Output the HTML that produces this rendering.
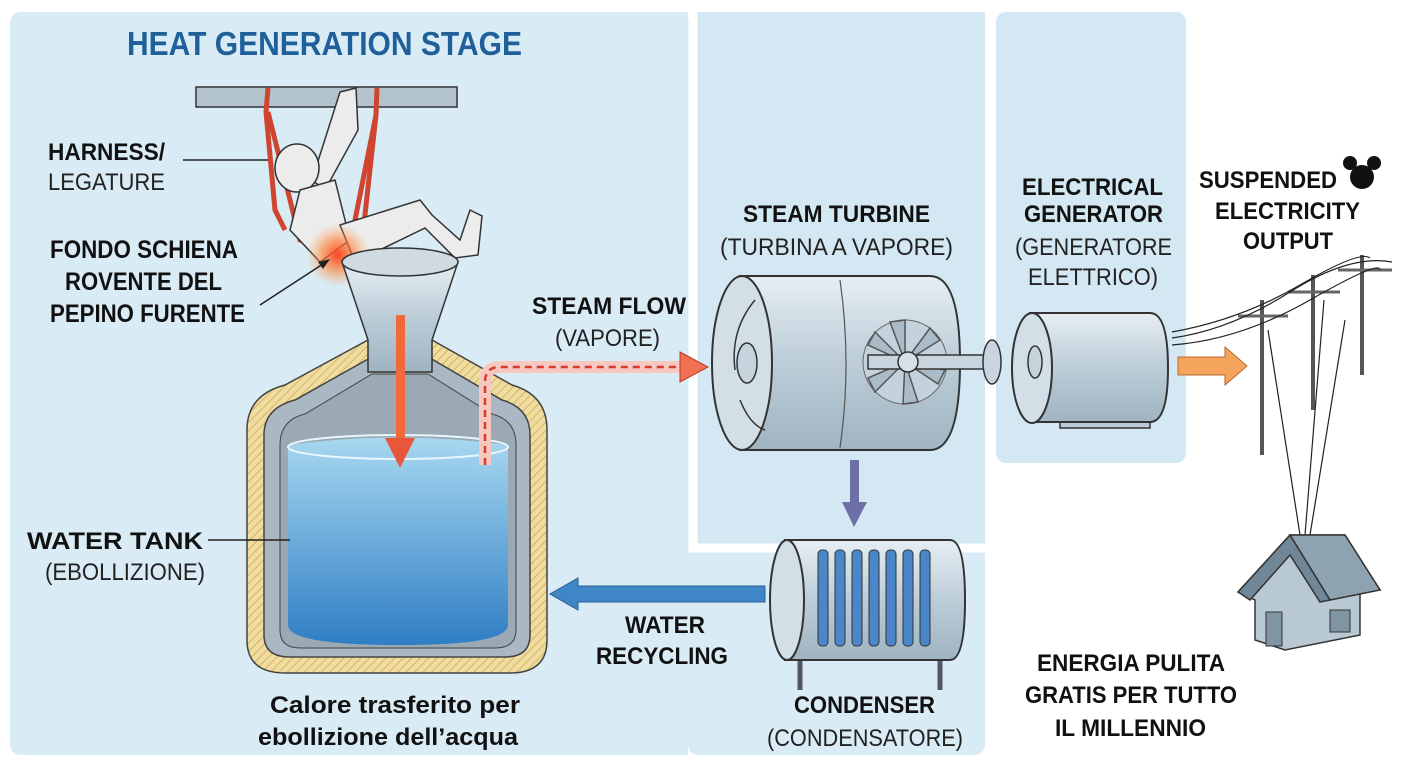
<!DOCTYPE html>
<html><head><meta charset="utf-8"><style>
html,body{margin:0;padding:0;background:#fff;}
svg{display:block}
text{font-family:"Liberation Sans Narrow","Liberation Sans",sans-serif;}
.b{font-weight:bold;fill:#111;}
.r{fill:#222;}
</style></head><body>
<svg width="1408" height="768" viewBox="0 0 1408 768" xmlns="http://www.w3.org/2000/svg">
<defs>
<pattern id="hatch" width="6" height="6" patternUnits="userSpaceOnUse" patternTransform="rotate(45)">
<rect width="6" height="6" fill="#f0dca0"/><line x1="0" y1="0" x2="0" y2="6" stroke="#c9a84e" stroke-width="1.5"/></pattern>
<linearGradient id="water" x1="0" y1="0" x2="0" y2="1"><stop offset="0" stop-color="#a8d8f0"/><stop offset="1" stop-color="#2f7ec4"/></linearGradient>
<linearGradient id="metal" x1="0" y1="0" x2="0" y2="1"><stop offset="0" stop-color="#e6eef3"/><stop offset="0.5" stop-color="#bccdd8"/><stop offset="1" stop-color="#9fb3c1"/></linearGradient>
<radialGradient id="glow"><stop offset="0" stop-color="#ff3a1a" stop-opacity="0.95"/><stop offset="0.5" stop-color="#ff7a30" stop-opacity="0.6"/><stop offset="1" stop-color="#ffb060" stop-opacity="0"/></radialGradient>
</defs>
<!-- panels -->
<path d="M22 12 H688 V755 H22 Q10 755 10 743 V24 Q10 12 22 12Z" fill="#d9ebf4"/>
<rect x="688" y="12" width="297" height="743" rx="10" fill="#d9ebf4"/>
<rect x="698" y="12" width="287" height="536" fill="#d3e8f3"/>
<path d="M693 12 V548 H985" fill="none" stroke="#fff" stroke-width="9"/>
<rect x="996" y="12" width="190" height="451" rx="10" fill="#d3e8f3"/>

<text x="127" y="55" font-size="33" font-weight="bold" fill="#1f5f9a" textLength="395" lengthAdjust="spacingAndGlyphs">HEAT GENERATION STAGE</text>

<!-- bar and figure -->
<rect x="196" y="87" width="261" height="20" fill="#b3c4cc" stroke="#333" stroke-width="1.5"/>
<g stroke="#d0452f" stroke-width="5" fill="none">
<path d="M268 88 L266 112 L275 210 L285 230"/><path d="M268 112 L300 240 L330 250"/>
<path d="M377 88 L376 115 L360 260"/><path d="M376 115 L350 245"/>
</g>
<g fill="#ececec" stroke="#333" stroke-width="1.5">
<path d="M340 92 L356 88 L358 130 L325 190 L312 180 Z"/>
<ellipse cx="297" cy="168" rx="22" ry="24"/>
<path d="M300 190 L335 180 L350 240 L320 262 L290 230 Z"/>
<path d="M340 225 L420 200 L432 215 L460 240 L470 210 L482 216 L478 255 L455 258 L425 228 L355 262 Z"/>
</g>
<circle cx="338" cy="255" r="32" fill="url(#glow)"/>
<!-- tank -->
<path d="M247 430 Q247 395 285 385 L368 340 L432 340 L512 385 Q547 395 547 430 V640 Q547 673 510 673 H285 Q247 673 247 640 Z" fill="url(#hatch)" stroke="#444" stroke-width="1.5"/>
<path d="M264 435 Q264 408 295 400 L370 358 L430 358 L502 400 Q530 408 530 435 V635 Q530 657 505 657 H290 Q264 657 264 635 Z" fill="#a9b8c2" stroke="#444" stroke-width="1.5"/>
<path d="M280 445 Q280 420 305 414 L372 374 L428 374 L492 414 Q516 420 516 445 V630 Q516 648 495 648 H300 Q280 648 280 630 Z" fill="#9aa9b3" stroke="#444" stroke-width="1"/>
<path d="M288 445 Q398 430 508 445 V625 Q508 645 400 645 Q288 645 288 625 Z" fill="url(#water)"/>
<ellipse cx="398" cy="447" rx="110" ry="12" fill="none" stroke="#e8f6ff" stroke-width="2"/>
<!-- funnel -->
<path d="M342 262 L458 262 L432 340 L432 372 L368 372 L368 340 Z" fill="url(#metal)" stroke="#333" stroke-width="1.5"/>
<ellipse cx="400" cy="262" rx="58" ry="14" fill="#cfdae1" stroke="#333" stroke-width="1.5"/>
<rect x="396" y="315" width="9" height="125" fill="#f06a3c"/>
<path d="M385 438 L415 438 L400 468 Z" fill="#e9573a"/>
<!-- steam pipe -->
<path d="M485 465 V382 Q485 367 500 367 H685" fill="none" stroke="#f6c8bf" stroke-width="12"/>
<path d="M485 465 V382 Q485 367 500 367 H680" fill="none" stroke="#d83a2e" stroke-width="2.5" stroke-dasharray="7 5"/>
<path d="M680 352 L708 367 L680 382 Z" fill="#f07052" stroke="#c0392b"/>
<!-- labels left -->
<text class="b" x="48" y="160" font-size="24" textLength="117" lengthAdjust="spacingAndGlyphs">HARNESS/</text>
<text class="r" x="48" y="190" font-size="24" textLength="117" lengthAdjust="spacingAndGlyphs">LEGATURE</text>
<line x1="183" y1="160" x2="268" y2="160" stroke="#222" stroke-width="1.5"/>
<text class="b" x="50" y="258" font-size="25" textLength="188" lengthAdjust="spacingAndGlyphs">FONDO SCHIENA</text>
<text class="b" x="65" y="290" font-size="25" textLength="157" lengthAdjust="spacingAndGlyphs">ROVENTE DEL</text>
<text class="b" x="50" y="322" font-size="25" textLength="195" lengthAdjust="spacingAndGlyphs">PEPINO FURENTE</text>
<line x1="260" y1="305" x2="326" y2="262" stroke="#222" stroke-width="1.5"/>
<path d="M330 259 L318 262 L323 269 Z" fill="#222"/>
<text class="b" x="532" y="314" font-size="24" textLength="154" lengthAdjust="spacingAndGlyphs">STEAM FLOW</text>
<text class="r" x="555" y="346" font-size="24" textLength="105" lengthAdjust="spacingAndGlyphs">(VAPORE)</text>
<text class="b" x="27" y="549" font-size="24" textLength="176" lengthAdjust="spacingAndGlyphs">WATER TANK</text>
<text class="r" x="45" y="580" font-size="24" textLength="160" lengthAdjust="spacingAndGlyphs">(EBOLLIZIONE)</text>
<line x1="208" y1="540" x2="290" y2="540" stroke="#222" stroke-width="1.5"/>
<text class="b" x="270" y="713" font-size="24" textLength="250" lengthAdjust="spacingAndGlyphs">Calore trasferito per</text>
<text class="b" x="258" y="745" font-size="24" textLength="260" lengthAdjust="spacingAndGlyphs">ebollizione dell’acqua</text>
<!-- turbine -->
<text class="b" x="743" y="222" font-size="24" textLength="187" lengthAdjust="spacingAndGlyphs">STEAM TURBINE</text>
<text class="r" x="720" y="255" font-size="24" textLength="233" lengthAdjust="spacingAndGlyphs">(TURBINA A VAPORE)</text>
<path d="M740 276 H930 Q960 276 960 362 Q960 450 930 450 H740 Z" fill="url(#metal)" stroke="#333" stroke-width="2"/>
<ellipse cx="742" cy="363" rx="30" ry="87" fill="#d3dfe6" stroke="#333" stroke-width="2"/>
<ellipse cx="747" cy="363" rx="10" ry="20" fill="#c5d3dc" stroke="#333" stroke-width="1.5"/>
<path d="M755 300 Q730 330 735 370" fill="none" stroke="#333" stroke-width="1.5"/>
<path d="M740 400 Q750 425 765 430" fill="none" stroke="#333" stroke-width="1.5"/>
<path d="M840 280 Q852 363 840 448" fill="none" stroke="#555" stroke-width="1.2"/>
<circle cx="905" cy="362" r="42" fill="#c4d2db" stroke="#666" stroke-width="1"/>
<g stroke="#555" stroke-width="1.5" fill="#a9bcc8">
<path d="M905 362 L890 322 L905 320 Z"/><path d="M905 362 L930 328 L940 340 Z"/><path d="M905 362 L945 370 L938 384 Z"/><path d="M905 362 L918 402 L903 404 Z"/><path d="M905 362 L875 392 L868 378 Z"/><path d="M905 362 L868 345 L875 332 Z"/>
</g>
<rect x="868" y="355" width="120" height="14" fill="#c8d5de" stroke="#333" stroke-width="1.5"/>
<circle cx="908" cy="362" r="10" fill="#d5e0e7" stroke="#333" stroke-width="1.5"/>
<ellipse cx="992" cy="362" rx="9" ry="22" fill="#c8d5de" stroke="#333" stroke-width="1.5"/>
<!-- generator -->
<text class="b" x="1022" y="195" font-size="24" textLength="141" lengthAdjust="spacingAndGlyphs">ELECTRICAL</text>
<text class="b" x="1024" y="222" font-size="24" textLength="139" lengthAdjust="spacingAndGlyphs">GENERATOR</text>
<text class="r" x="1015" y="255" font-size="24" textLength="157" lengthAdjust="spacingAndGlyphs">(GENERATORE</text>
<text class="r" x="1028" y="285" font-size="24" textLength="130" lengthAdjust="spacingAndGlyphs">ELETTRICO)</text>
<rect x="1060" y="390" width="90" height="38" fill="#bccbd5" stroke="#333" stroke-width="1.5"/>
<path d="M1030 313 H1150 Q1168 313 1168 368 Q1168 422 1150 422 H1030 Z" fill="url(#metal)" stroke="#333" stroke-width="2"/>
<ellipse cx="1032" cy="368" rx="20" ry="55" fill="#d3dfe6" stroke="#333" stroke-width="2"/>
<ellipse cx="1035" cy="362" rx="7" ry="16" fill="#c5d3dc" stroke="#333" stroke-width="1.5"/>
<path d="M1178 357 H1225 V347 L1247 366 L1225 385 V375 H1178 Z" fill="#f4a45c" stroke="#b86a2a"/>
<!-- right side -->
<text class="b" x="1199" y="188" font-size="24" textLength="138" lengthAdjust="spacingAndGlyphs">SUSPENDED</text>
<circle cx="1362" cy="177" r="12" fill="#111"/><circle cx="1350" cy="163" r="7" fill="#111"/><circle cx="1374" cy="163" r="7" fill="#111"/>
<text class="b" x="1215" y="219" font-size="24" textLength="145" lengthAdjust="spacingAndGlyphs">ELECTRICITY</text>
<text class="b" x="1243" y="249" font-size="24" textLength="90" lengthAdjust="spacingAndGlyphs">OUTPUT</text>
<g stroke="#555" stroke-width="4"><line x1="1262" y1="300" x2="1262" y2="455"/><line x1="1313" y1="275" x2="1313" y2="410"/><line x1="1362" y1="255" x2="1362" y2="375"/></g>
<g stroke="#666" stroke-width="3"><line x1="1238" y1="316" x2="1288" y2="316"/><line x1="1288" y1="292" x2="1340" y2="292"/><line x1="1338" y1="270" x2="1392" y2="270"/></g>
<g fill="none" stroke="#222" stroke-width="1.2">
<path d="M1172 338 Q1230 330 1290 292 T1392 262"/><path d="M1172 345 Q1240 340 1310 300 T1380 270"/><path d="M1172 332 Q1240 320 1300 285 T1370 258"/>
<path d="M1268 330 L1300 535"/><path d="M1324 300 L1305 535"/><path d="M1345 320 L1310 535"/>
</g>
<path d="M1238 592 L1290 535 L1345 535 L1380 590 L1360 590 L1360 635 L1285 650 L1255 640 L1255 600 Z" fill="#b9c9d3" stroke="#333" stroke-width="1.5"/>
<path d="M1290 535 L1345 535 L1380 590 L1330 600 Z" fill="#8ea3b1" stroke="#333" stroke-width="1.5"/>
<path d="M1238 592 L1290 535 L1330 600 L1320 602 L1290 555 L1250 600 Z" fill="#6f8797" stroke="#333" stroke-width="1.5"/>
<rect x="1266" y="612" width="16" height="34" fill="#7f95a4" stroke="#333"/>
<rect x="1330" y="610" width="20" height="22" fill="#7f95a4" stroke="#333"/>
<text class="b" x="1037" y="671" font-size="24" textLength="188" lengthAdjust="spacingAndGlyphs">ENERGIA PULITA</text>
<text class="b" x="1025" y="703" font-size="24" textLength="212" lengthAdjust="spacingAndGlyphs">GRATIS PER TUTTO</text>
<text class="b" x="1055" y="736" font-size="24" textLength="151" lengthAdjust="spacingAndGlyphs">IL MILLENNIO</text>
<!-- condenser -->
<rect x="850" y="460" width="9" height="45" fill="#6f6fa8"/>
<path d="M842 502 L867 502 L854 527 Z" fill="#6f6fa8"/>
<path d="M800 640 V690 M940 640 V690" stroke="#556" stroke-width="5"/>
<path d="M785 540 H950 Q965 540 965 600 Q965 660 950 660 H785 Z" fill="url(#metal)" stroke="#333" stroke-width="2"/>
<ellipse cx="787" cy="600" rx="17" ry="60" fill="#d3dfe6" stroke="#333" stroke-width="2"/>
<g fill="#4a86c8" stroke="#333" stroke-width="1">
<rect x="818" y="550" width="10" height="96" rx="4"/><rect x="835" y="550" width="10" height="96" rx="4"/><rect x="852" y="550" width="10" height="96" rx="4"/><rect x="869" y="550" width="10" height="96" rx="4"/><rect x="886" y="550" width="10" height="96" rx="4"/><rect x="903" y="550" width="10" height="96" rx="4"/><rect x="920" y="550" width="10" height="96" rx="4"/>
</g>
<path d="M765 586 H578 V578 L550 594 L578 610 V602 H765 Z" fill="#3f86c6" stroke="#2a5f95"/>
<text class="b" x="625" y="633" font-size="24" textLength="80" lengthAdjust="spacingAndGlyphs">WATER</text>
<text class="b" x="596" y="664" font-size="24" textLength="132" lengthAdjust="spacingAndGlyphs">RECYCLING</text>
<text class="b" x="794" y="713" font-size="24" textLength="141" lengthAdjust="spacingAndGlyphs">CONDENSER</text>
<text class="r" x="767" y="746" font-size="24" textLength="196" lengthAdjust="spacingAndGlyphs">(CONDENSATORE)</text>
</svg>
</body></html>
